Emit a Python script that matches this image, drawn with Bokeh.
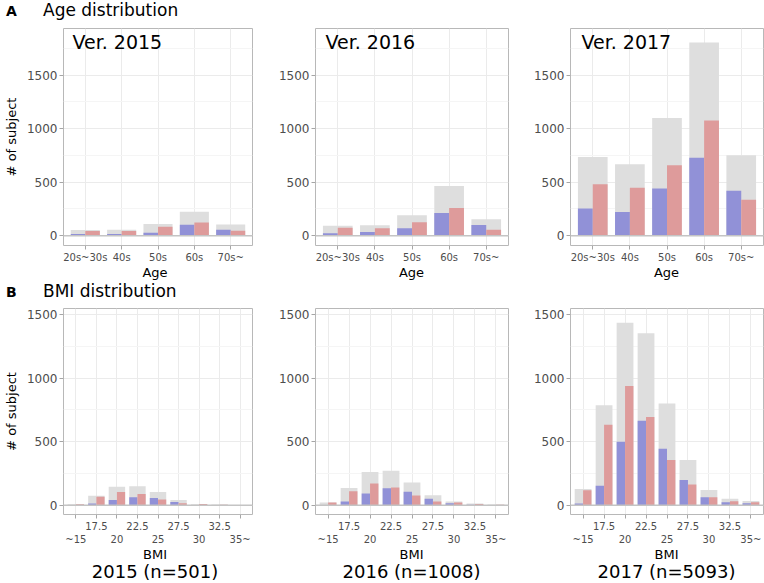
from bokeh.plotting import figure
from bokeh.layouts import column, row
from bokeh.models import (ColumnDataSource, FixedTicker, Range1d, Label, Span,
                          Div)
from bokeh.transform import dodge
from bokeh.embed import file_html
from bokeh.resources import INLINE

FONT = "DejaVu Sans"

# ---------------- data ----------------
age_labels = ["20s~30s", "40s", "50s", "60s", "70s~"]
bmi_labels = ["~15", "17.5", "20", "22.5", "25", "27.5", "30", "32.5", "35~"]
years = ["2015", "2016", "2017"]
n_subjects = [501, 1008, 5093]

# Age distribution: total (grey), blue group, red group
age_total_2015 = [52, 56, 108, 224, 105]
age_blue_2015 = [15, 15, 28, 102, 56]
age_red_2015 = [43, 43, 84, 124, 47]

age_total_2016 = [93, 97, 190, 463, 153]
age_blue_2016 = [22, 34, 69, 212, 100]
age_red_2016 = [75, 69, 125, 258, 56]

age_total_2017 = [736, 667, 1100, 1804, 751]
age_blue_2017 = [254, 220, 441, 727, 419]
age_red_2017 = [481, 447, 658, 1077, 335]

# BMI distribution
bmi_total_2015 = [8, 75, 146, 149, 104, 42, 8, 5, 2]
bmi_blue_2015 = [0, 13, 42, 63, 57, 26, 2, 2, 1]
bmi_red_2015 = [8, 67, 104, 89, 44, 16, 10, 3, 1]

bmi_total_2016 = [22, 136, 261, 272, 178, 78, 29, 13, 6]
bmi_blue_2016 = [2, 29, 92, 133, 105, 50, 16, 4, 2]
bmi_red_2016 = [22, 110, 170, 139, 76, 29, 21, 10, 4]

bmi_total_2017 = [128, 787, 1434, 1353, 800, 355, 120, 50, 34]
bmi_blue_2017 = [13, 154, 499, 664, 444, 199, 63, 24, 16]
bmi_red_2017 = [118, 632, 938, 693, 355, 162, 63, 31, 24]

age_y_ticks = [0, 500, 1000, 1500]
age_y_minor = [250, 750, 1250, 1750]
bmi_y_ticks = [0, 500, 1000, 1500]
bmi_y_minor = [250, 750, 1250]

GREY = "#DEDEDE"
BLUE = "#9191D7"
RED = "#DE9B9B"
TICK_COL = "#4D4D4D"


def make_panel(labels, total, blue, red, y_start, y_end, yticks, yminor,
               frame_w, frame_h, b_left, b_right, b_top, b_bottom,
               ylabel=None, ver_text=None, ver_x=9, two_rows=False):
    pos = list(range(1, len(labels) + 1))
    src = ColumnDataSource(dict(pos=pos, total=total, blue=blue, red=red))
    p = figure(width=b_left + frame_w + b_right,
               height=b_top + frame_h + b_bottom,
               x_range=Range1d(0.4, len(labels) + 0.6),
               y_range=Range1d(y_start, y_end),
               output_backend="svg", toolbar_location=None,
               min_border_left=b_left, min_border_right=b_right,
               min_border_top=b_top, min_border_bottom=b_bottom)
    p.background_fill_color = "white"
    p.border_fill_color = "white"
    p.outline_line_color = "#B8B8B8"
    p.outline_line_width = 1

    p.vbar(x="pos", width=0.8, top="total", bottom=0, source=src,
           fill_color=GREY, line_color=None)
    p.vbar(x=dodge("pos", -0.2), width=0.4, top="blue", bottom=0, source=src,
           fill_color=BLUE, line_color=None)
    p.vbar(x=dodge("pos", 0.2), width=0.4, top="red", bottom=0, source=src,
           fill_color=RED, line_color=None)
    p.add_layout(Span(location=0, dimension="width", line_color="#C4C4C4",
                      line_width=1.5))

    # x axis (tick labels only)
    xt = FixedTicker(ticks=pos, minor_ticks=[])
    p.xaxis.ticker = xt
    p.xgrid.ticker = xt
    if two_rows:
        overrides = {}
        for i, lab in zip(pos, labels):
            overrides[i] = lab if i % 2 == 0 else "\n" + lab
    else:
        overrides = dict(zip(pos, labels))
    p.xaxis.major_label_overrides = overrides

    # y axis
    yt = FixedTicker(ticks=yticks, minor_ticks=yminor)
    p.yaxis.ticker = yt
    p.ygrid.ticker = yt
    if ylabel:
        p.yaxis.axis_label = ylabel

    for ax in (p.xaxis[0], p.yaxis[0]):
        ax.axis_line_color = None
        ax.major_tick_line_color = "#A6A6A6"
        ax.major_tick_out = 4
        ax.major_tick_in = 0
        ax.minor_tick_out = 0
        ax.minor_tick_in = 0
        ax.major_label_text_font = FONT
        ax.major_label_text_color = TICK_COL
        ax.axis_label_text_font = FONT
        ax.axis_label_text_font_style = "normal"
        ax.axis_label_text_font_size = "13px"
        ax.axis_label_text_color = "black"
    p.xaxis.major_label_text_font_size = "10px"
    p.yaxis.major_label_text_font_size = "12px"
    p.xaxis.major_label_standoff = 2
    p.yaxis.major_label_standoff = 2
    p.yaxis.axis_label_standoff = 5

    p.xgrid.grid_line_color = "#EBEBEB"
    p.ygrid.grid_line_color = "#EBEBEB"
    p.ygrid.minor_grid_line_color = "#F5F5F5"

    if ver_text:
        p.add_layout(Label(x=ver_x, y=frame_h - 3, x_units="screen",
                           y_units="screen", text=ver_text,
                           text_baseline="top", text_align="left",
                           text_font=FONT, text_font_size="19px",
                           text_color="black"))
    return p


age_data = [(age_total_2015, age_blue_2015, age_red_2015),
            (age_total_2016, age_blue_2016, age_red_2016),
            (age_total_2017, age_blue_2017, age_red_2017)]
bmi_data = [(bmi_total_2015, bmi_blue_2015, bmi_red_2015),
            (bmi_total_2016, bmi_blue_2016, bmi_red_2016),
            (bmi_total_2017, bmi_blue_2017, bmi_red_2017)]

# (border_left, frame_w, border_right, ver_x) per column
cols = [(58, 194, 1, 9), (62, 193, 1, 10), (61, 193, 1, 11)]

top_figs = []
bot_figs = []
for k in range(3):
    bl, fw, br, vx = cols[k]
    t, b, r = age_data[k]
    top_figs.append(make_panel(
        age_labels, t, b, r, -92, 1936, age_y_ticks, age_y_minor,
        fw, 218, bl, br, 2, 19,
        ylabel="# of subject" if k == 0 else None,
        ver_text="Ver. " + years[k], ver_x=vx))
    t, b, r = bmi_data[k]
    bot_figs.append(make_panel(
        bmi_labels, t, b, r, -73, 1547, bmi_y_ticks, bmi_y_minor,
        fw, 207, bl, br, 5, 32,
        ylabel="# of subject" if k == 0 else None, two_rows=True))


def header(letter, text, h):
    html = ('<span style="display:inline-block;box-sizing:border-box;'
            'width:43px;padding-left:6px;font-weight:bold;font-size:14px;">'
            '%s</span><span style="font-size:17px;">%s</span>'
            % (letter, text))
    return Div(text=html, width=764, height=h, margin=(0, 0, 0, 0),
               styles={"font-family": FONT, "color": "black",
                       "line-height": "20px", "white-space": "nowrap"})


def caption_row(texts, h, size, line_h):
    divs = []
    for k, txt in enumerate(texts):
        bl, fw, br, vx = cols[k]
        html = ('<div style="margin-left:%dpx;width:%dpx;text-align:center;'
                'font-size:%s;line-height:%s;white-space:nowrap;">%s</div>'
                % (bl, fw, size, line_h, txt))
        divs.append(Div(text=html, width=bl + fw + br, height=h,
                        margin=(0, 0, 0, 0),
                        styles={"font-family": FONT, "color": "black"}))
    return row(*divs, spacing=0)


layout = column(header("A", "Age distribution", 26),
                row(*top_figs, spacing=0),
                caption_row(["Age"] * 3, 16, "13px", "16px"),
                header("B", "BMI distribution", 22),
                row(*bot_figs, spacing=0),
                caption_row(["BMI"] * 3, 15, "13px", "15px"),
                caption_row(["%s (n=%d)" % (y, n)
                             for y, n in zip(years, n_subjects)],
                            20, "18px", "20px"),
                spacing=0)

open("out.html", "w").write(file_html(layout, INLINE))
